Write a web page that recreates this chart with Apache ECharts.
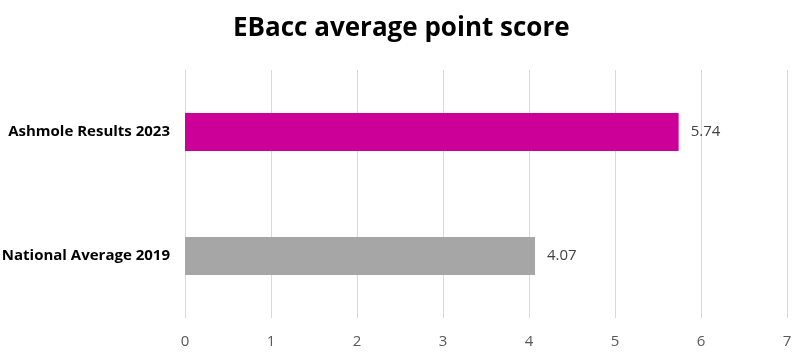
<!DOCTYPE html>
<html><head><meta charset="utf-8">
<script src="https://cdn.jsdelivr.net/npm/echarts@6/dist/echarts.min.js"></script>
<style>html,body{margin:0;padding:0;background:#fff}#c{width:810px;height:356px}</style>
</head><body><div id="c"></div>
<script>
const categories = ['National Average 2019', 'Ashmole Results 2023'];
const values = [4.07, 5.74];
const barColors = ['#A6A6A6', '#CC0099'];
const titleText = 'EBacc average point score';

const chart = echarts.init(document.getElementById('c'));
chart.setOption({
  animation: false,
  title: { text: titleText, left: 228, top: 11,
    textStyle: { fontFamily: 'Open Sans', fontWeight: 'bold', fontSize: 26, color: '#000' } },
  grid: { left: 185, right: 23, top: 70, bottom: 38, outerBoundsMode: 'none' },
  xAxis: { type: 'value', min: 0, max: 7, interval: 1,
    axisLine: { show: false }, axisTick: { show: false },
    splitLine: { lineStyle: { color: '#D9D9D9', width: 1 } },
    axisLabel: { color: '#595959', fontSize: 15, fontFamily: 'Open Sans', margin: 16 } },
  yAxis: { type: 'category', data: categories,
    axisLine: { show: true, lineStyle: { color: '#D9D9D9' } }, axisTick: { show: false },
    axisLabel: { color: '#000', fontWeight: 'bold', fontSize: 15, fontFamily: 'Open Sans', margin: 15 } },
  series: [{ type: 'bar', barWidth: 38,
    data: values.map((v, i) => ({ value: v, itemStyle: { color: barColors[i] } })),
    label: { show: true, position: 'right', distance: 12, color: '#404040', fontSize: 15, fontFamily: 'Open Sans' } }]
});
</script></body></html>
